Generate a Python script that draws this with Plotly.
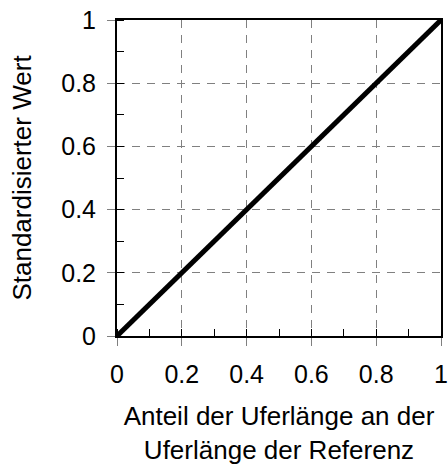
import plotly.graph_objects as go

x_vals = [0, 1]
y_vals = [0, 1]
tick_vals = [0, 0.2, 0.4, 0.6, 0.8, 1]
tick_text = ["0", "0.2", "0.4", "0.6", "0.8", "1"]

fig = go.Figure()
fig.add_trace(go.Scatter(x=x_vals, y=y_vals, mode="lines",
                         line=dict(color="black", width=5), cliponaxis=False,
                         showlegend=False))

axis_common = dict(
    range=[0, 1], tickvals=tick_vals, ticktext=tick_text,
    showline=True, linecolor="black", linewidth=2, mirror=True,
    ticks="outside", ticklen=8, tickcolor="#808080", tickwidth=1,
    showgrid=True, gridcolor="#808080", griddash="8px,7px", gridwidth=1,
    zeroline=False, automargin=False, ticklabeloverflow="allow",
    minor=dict(dtick=0.1, tick0=0, ticks="inside", ticklen=7,
               tickcolor="black", tickwidth=1, showgrid=False),
    tickfont=dict(size=25, color="black"),
)

fig.update_xaxes(**axis_common, ticklabelstandoff=7,
                 title=dict(text="Anteil der Uferlänge an der<br>Uferlänge der Referenz",
                            font=dict(size=26, color="black"), standoff=20))
fig.update_yaxes(**axis_common, ticklabelstandoff=6,
                 title=dict(text="Standardisierter Wert",
                            font=dict(size=26, color="black"), standoff=22))

fig.update_layout(
    width=448, height=465,
    margin=dict(l=117, r=7, t=20, b=129),
    plot_bgcolor="white", paper_bgcolor="white",
    font=dict(family="Liberation Sans, Arial, sans-serif", color="black"),
)

fig.write_html("out.html", config={"displayModeBar": False},
               post_script="document.body.style.margin='0';document.body.style.overflow='hidden';")
